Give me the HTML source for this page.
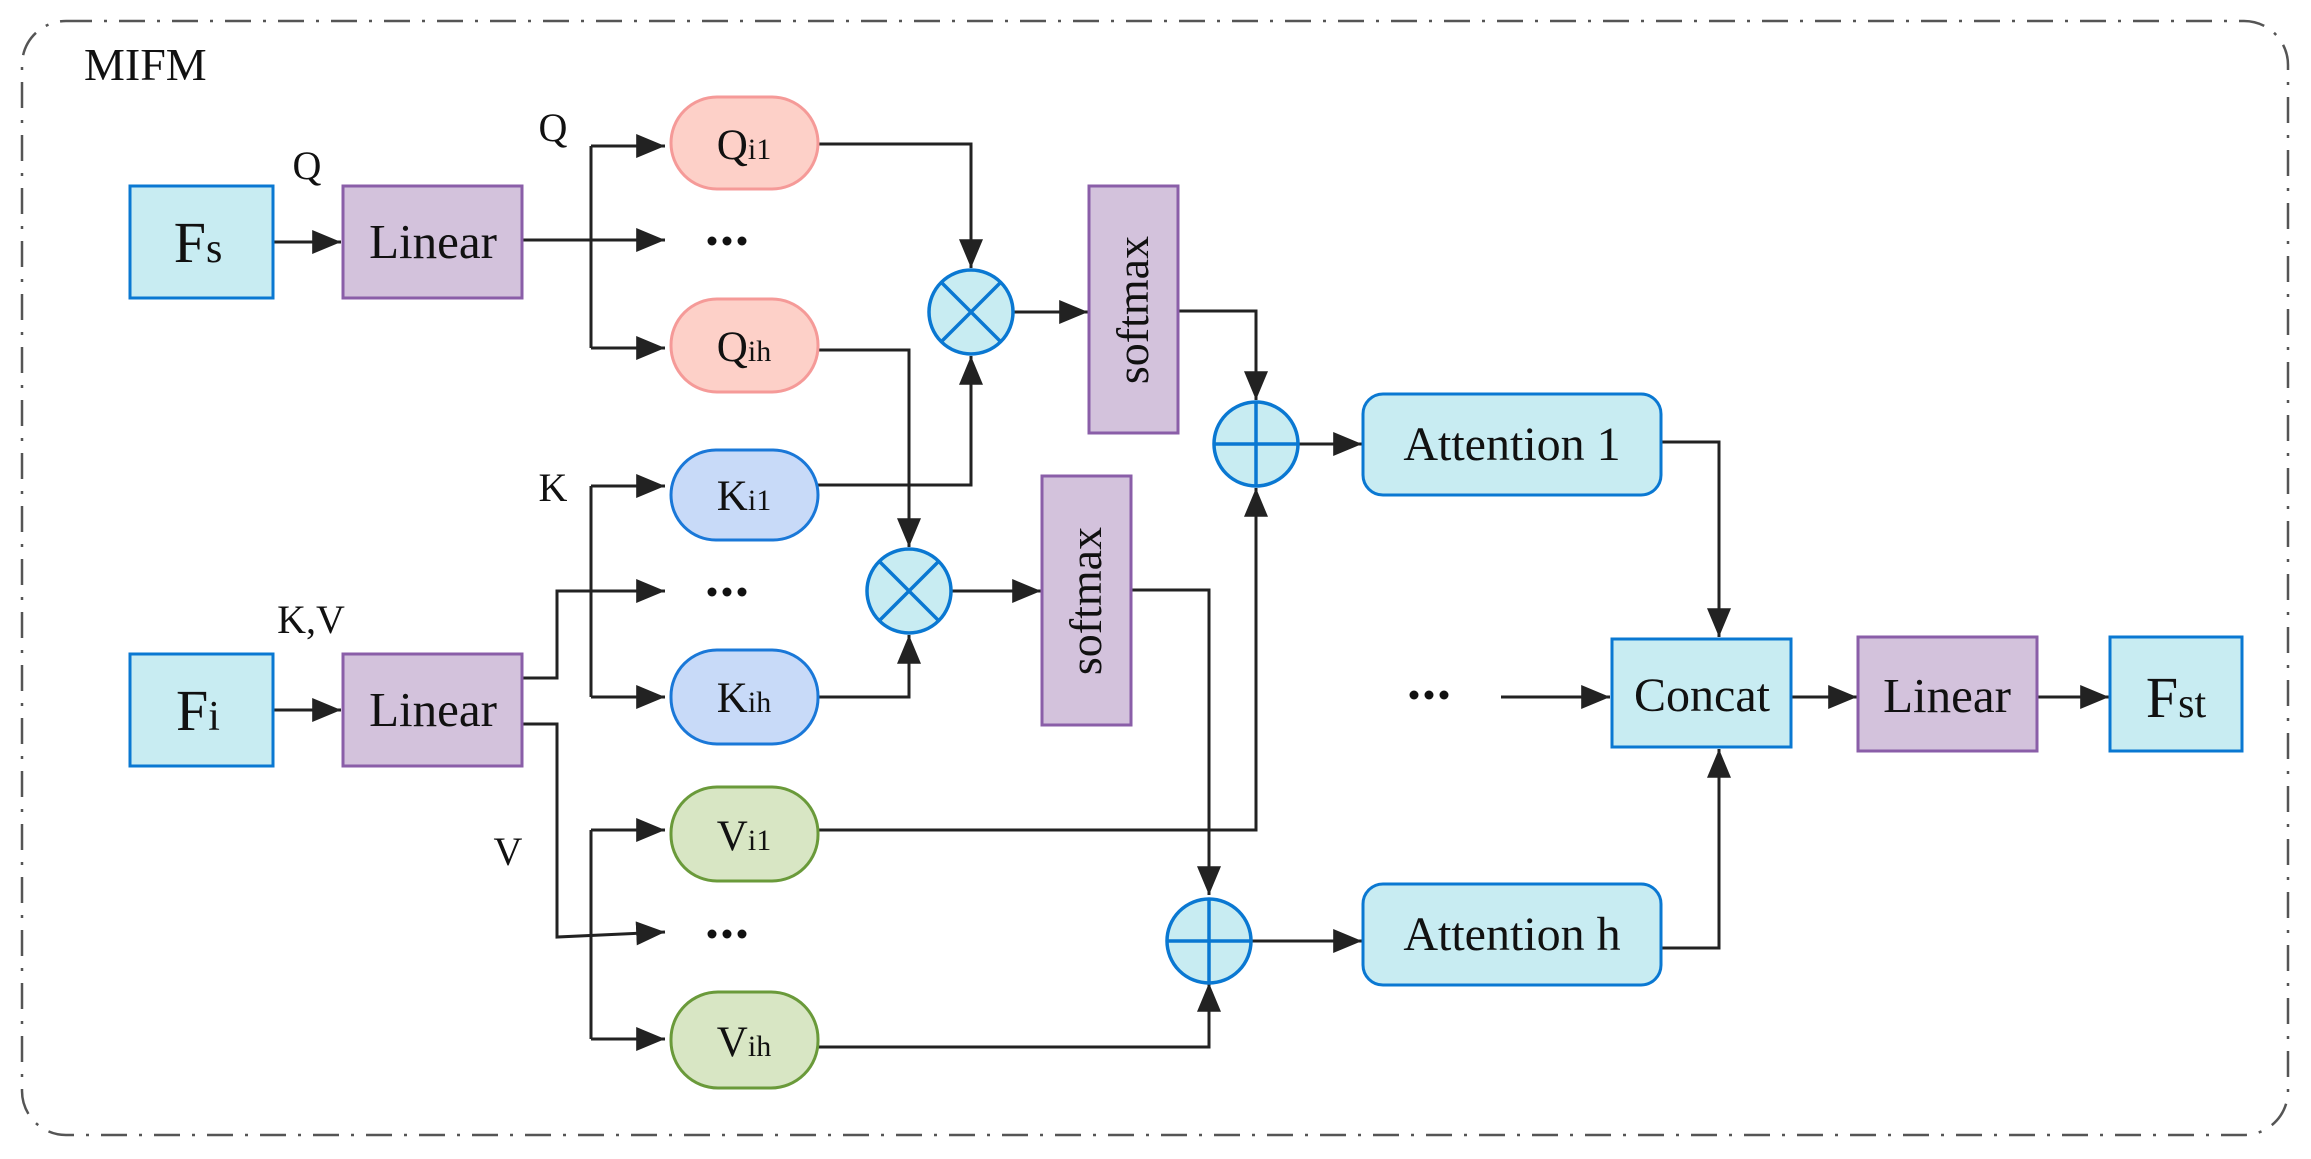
<!DOCTYPE html>
<html><head><meta charset="utf-8"><style>
html,body{margin:0;padding:0;background:#fff;}
svg{display:block;}
text{font-family:"Liberation Serif",serif;fill:#111;}
</style></head><body>
<svg width="2311" height="1159" viewBox="0 0 2311 1159" xmlns="http://www.w3.org/2000/svg">
<defs>
<marker id="ar" viewBox="0 0 12 10" refX="12" refY="5" markerWidth="29" markerHeight="24" markerUnits="userSpaceOnUse" orient="auto"><path d="M0,0 L12,5 L0,10 z" fill="#222"/></marker>
</defs>
<rect x="22" y="21" width="2266" height="1114" rx="44" fill="none" stroke="#555" stroke-width="2.5" stroke-dasharray="26,12,3,12"/>
<text x="84" y="80" font-size="46">MIFM</text>

<g stroke="#222" stroke-width="3" fill="none">
<path d="M273,242 L341,242" marker-end="url(#ar)"/>
<path d="M273,710 L341,710" marker-end="url(#ar)"/>
<path d="M522,240 L665,240" marker-end="url(#ar)"/>
<path d="M591,146 L591,348"/>
<path d="M591,146 L665,146" marker-end="url(#ar)"/>
<path d="M591,348 L665,348" marker-end="url(#ar)"/>
<path d="M591,486 L591,697"/>
<path d="M591,486 L665,486" marker-end="url(#ar)"/>
<path d="M591,697 L665,697" marker-end="url(#ar)"/>
<path d="M522,678 L557,678 L557,591 L665,591" marker-end="url(#ar)"/>
<path d="M522,724 L557,724 L557,937 L665,932" marker-end="url(#ar)"/>
<path d="M591,830 L591,1039"/>
<path d="M591,830 L665,830" marker-end="url(#ar)"/>
<path d="M591,1039 L665,1039" marker-end="url(#ar)"/>
<path d="M818,144 L971,144 L971,268" marker-end="url(#ar)"/>
<path d="M818,485 L971,485 L971,356" marker-end="url(#ar)"/>
<path d="M818,350 L909,350 L909,547" marker-end="url(#ar)"/>
<path d="M818,697 L909,697 L909,635" marker-end="url(#ar)"/>
<path d="M1014,312 L1088,312" marker-end="url(#ar)"/>
<path d="M952,591 L1041,591" marker-end="url(#ar)"/>
<path d="M1178,311 L1256,311 L1256,400" marker-end="url(#ar)"/>
<path d="M1131,590 L1209,590 L1209,895" marker-end="url(#ar)"/>
<path d="M818,830 L1256,830 L1256,488" marker-end="url(#ar)"/>
<path d="M818,1047 L1209,1047 L1209,983" marker-end="url(#ar)"/>
<path d="M1299,444 L1362,444" marker-end="url(#ar)"/>
<path d="M1252,941 L1362,941" marker-end="url(#ar)"/>
<path d="M1661,442 L1719,442 L1719,637" marker-end="url(#ar)"/>
<path d="M1661,948 L1719,948 L1719,749" marker-end="url(#ar)"/>
<path d="M1501,697 L1610,697" marker-end="url(#ar)"/>
<path d="M1791,697 L1857,697" marker-end="url(#ar)"/>
<path d="M2037,697 L2109,697" marker-end="url(#ar)"/>
</g>

<g stroke-width="3">
<rect x="130" y="186" width="143" height="112" fill="#c8ecf2" stroke="#0a78d2"/>
<rect x="130" y="654" width="143" height="112" fill="#c8ecf2" stroke="#0a78d2"/>
<rect x="343" y="186" width="179" height="112" fill="#d3c2dc" stroke="#8a5ea8"/>
<rect x="343" y="654" width="179" height="112" fill="#d3c2dc" stroke="#8a5ea8"/>
<rect x="671" y="97" width="147" height="92" rx="46" fill="#fdd0c8" stroke="#f59a98"/>
<rect x="671" y="299" width="147" height="93" rx="46" fill="#fdd0c8" stroke="#f59a98"/>
<rect x="671" y="450" width="147" height="90" rx="45" fill="#c8daf8" stroke="#1a78d8"/>
<rect x="671" y="650" width="147" height="94" rx="46" fill="#c8daf8" stroke="#1a78d8"/>
<rect x="671" y="787" width="147" height="94" rx="46" fill="#d8e6c4" stroke="#6a9a3a"/>
<rect x="671" y="992" width="147" height="96" rx="47" fill="#d8e6c4" stroke="#6a9a3a"/>
<rect x="1089" y="186" width="89" height="247" fill="#d3c2dc" stroke="#8a5ea8"/>
<rect x="1042" y="476" width="89" height="249" fill="#d3c2dc" stroke="#8a5ea8"/>
<rect x="1363" y="394" width="298" height="101" rx="20" fill="#c8ecf2" stroke="#0a78d2"/>
<rect x="1363" y="884" width="298" height="101" rx="20" fill="#c8ecf2" stroke="#0a78d2"/>
<rect x="1612" y="639" width="179" height="108" fill="#c8ecf2" stroke="#0a78d2"/>
<rect x="1858" y="637" width="179" height="114" fill="#d3c2dc" stroke="#8a5ea8"/>
<rect x="2110" y="637" width="132" height="114" fill="#c8ecf2" stroke="#0a78d2"/>
</g>
<g stroke="#0a78d2" stroke-width="3.5" fill="#c8ecf2">
<circle cx="971" cy="312" r="42"/>
<path d="M941,282 L1001,342 M1001,282 L941,342" fill="none"/>
<circle cx="909" cy="591" r="42"/>
<path d="M879,561 L939,621 M939,561 L879,621" fill="none"/>
<circle cx="1256" cy="444" r="42"/>
<path d="M1214,444 L1298,444 M1256,402 L1256,486" fill="none"/>
<circle cx="1209" cy="941" r="42"/>
<path d="M1167,941 L1251,941 M1209,899 L1209,983" fill="none"/>
</g>

<g fill="#111">
<circle cx="712" cy="241" r="4.5"/><circle cx="727" cy="241" r="4.5"/><circle cx="742" cy="241" r="4.5"/>
<circle cx="712" cy="592" r="4.5"/><circle cx="727" cy="592" r="4.5"/><circle cx="742" cy="592" r="4.5"/>
<circle cx="712" cy="934" r="4.5"/><circle cx="727" cy="934" r="4.5"/><circle cx="742" cy="934" r="4.5"/>
<circle cx="1414" cy="695" r="4.5"/><circle cx="1429" cy="695" r="4.5"/><circle cx="1444" cy="695" r="4.5"/>
</g>

<g text-anchor="middle">
<text x="198" y="262" font-size="58">F<tspan font-size="42">s</tspan></text>
<text x="198" y="730" font-size="58">F<tspan font-size="42">i</tspan></text>
<text x="433" y="258" font-size="49">Linear</text>
<text x="433" y="726" font-size="49">Linear</text>
<text x="307" y="179" font-size="40">Q</text>
<text x="553" y="141" font-size="40">Q</text>
<text x="553" y="501" font-size="40">K</text>
<text x="311" y="633" font-size="40">K,V</text>
<text x="508" y="865" font-size="40">V</text>
<text x="744" y="159" font-size="43">Q<tspan font-size="30">i1</tspan></text>
<text x="744" y="361" font-size="43">Q<tspan font-size="30">ih</tspan></text>
<text x="744" y="510" font-size="43">K<tspan font-size="30">i1</tspan></text>
<text x="744" y="712" font-size="43">K<tspan font-size="30">ih</tspan></text>
<text x="744" y="850" font-size="43">V<tspan font-size="30">i1</tspan></text>
<text x="744" y="1056" font-size="43">V<tspan font-size="30">ih</tspan></text>
<text transform="translate(1148,310) rotate(-90)" font-size="46">softmax</text>
<text transform="translate(1101,601) rotate(-90)" font-size="46">softmax</text>
<text x="1512" y="460" font-size="48">Attention 1</text>
<text x="1512" y="950" font-size="48">Attention h</text>
<text x="1702" y="711" font-size="48">Concat</text>
<text x="1947" y="712" font-size="49">Linear</text>
<text x="2176" y="717" font-size="58">F<tspan font-size="42">st</tspan></text>
</g>
</svg>
</body></html>
